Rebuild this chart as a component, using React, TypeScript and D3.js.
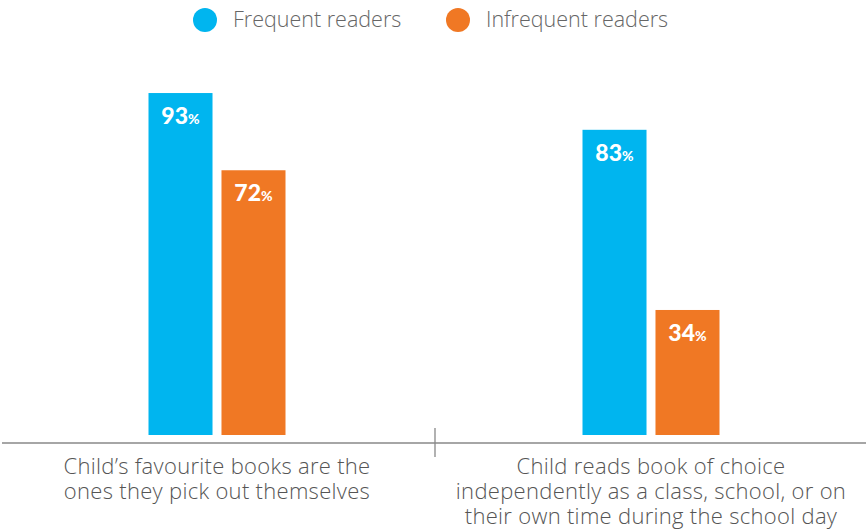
import React from 'react';
import * as d3 from 'd3';

const categories = [
  ["Child’s favourite books are the", "ones they pick out themselves"],
  ["Child reads book of choice", "independently as a class, school, or on", "their own time during the school day"],
];
const seriesNames = ["Frequent readers", "Infrequent readers"];
const frequent = [93, 83];
const infrequent = [72, 34];
const colors = ["#00b5ef", "#f07824"];

const W = 868;
const H = 531;

const App = () => {
  const x = d3.scaleBand<number>().domain([0, 1]).range([0, W]);
  const inner = d3.scaleBand<number>().domain([0, 1]).range([-68.5, 68.5]).paddingInner(0.123);
  const y = d3.scaleLinear().domain([0, 100]).range([435, 67.3]);
  const values = [frequent, infrequent];
  const labelFont = "'Open Sans', 'Lato', sans-serif";

  return (
    <svg width={W} height={H} style={{ position: 'absolute', left: 0, top: 0 }}>
      {/* legend */}
      {seriesNames.map((name, i) => {
        const lx = [205, 458][i];
        return (
          <g key={name}>
            <circle cx={lx} cy={20} r={12} fill={colors[i]} />
            <text x={lx + 28} y={27} fontSize={21.5} fontWeight={300} fill="#666" fontFamily={labelFont}>{name}</text>
          </g>
        );
      })}

      {/* bars */}
      {categories.map((c, ci) => {
        const cx = x(ci)! + x.bandwidth() / 2;
        return (
          <g key={ci}>
            {values.map((s, si) => {
              const bx = cx + inner(si)!;
              const bw = inner.bandwidth();
              const v = s[ci];
              return (
                <g key={si}>
                  <rect x={bx} y={y(v)} width={bw} height={y(0) - y(v)} fill={colors[si]} />
                  <text x={bx + bw / 2} y={y(v) + 31} textAnchor="middle" fill="#fff"
                    fontFamily="'Lato', 'Roboto', sans-serif" fontWeight={900}>
                    <tspan fontSize={23}>{v}</tspan>
                    <tspan fontSize={14}>%</tspan>
                  </text>
                </g>
              );
            })}
            {c.map((line, li) => (
              <text key={li} x={cx} y={474 + li * 25} textAnchor="middle" fontSize={22}
                letterSpacing={0.3} fontWeight={300} fill="#555" fontFamily={labelFont}>{line}</text>
            ))}
          </g>
        );
      })}

      {/* axis */}
      <line x1={2} x2={866} y1={443} y2={443} stroke="#888" strokeWidth={1.3} />
      <line x1={x(1)! + 1} x2={x(1)! + 1} y1={428} y2={457} stroke="#888" strokeWidth={1.3} />
    </svg>
  );
};

export default App;
